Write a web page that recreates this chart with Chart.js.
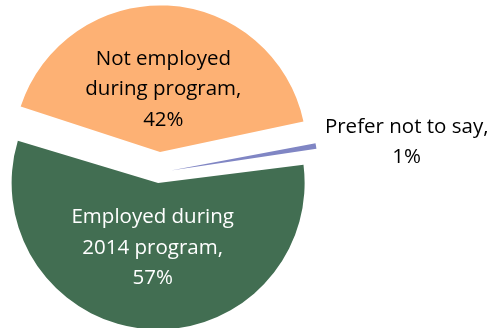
<!DOCTYPE html>
<html>
<head>
<meta charset="utf-8">
<script src="https://cdn.jsdelivr.net/npm/chart.js@4"></script>
<style>
  html, body { margin: 0; padding: 0; background: #fff; }
  #wrap { width: 495px; height: 328px; }
</style>
</head>
<body>
<div id="wrap"><canvas id="pie" width="495" height="328"></canvas></div>
<script>
// data
const categories = [
  ['Employed during', '2014 program,'],
  ['Not employed', 'during program,'],
  ['Prefer not to say,']
];
const shares = [57, 42, 1];
const sliceColors = ['#426E52', '#FDB174', '#8086C4'];
const textColors = ['#ffffff', '#000000', '#000000'];
// label distance from the pie centre (fraction of radius); null = outside
const labelRadius = [0.555, 0.61, null];

const FONT = '"Open Sans", "Noto Sans", sans-serif';

// data labels, Excel style (name, value%)
const pieLabels = {
  id: 'pieLabels',
  afterDatasetsDraw(chart) {
    const { ctx } = chart;
    const meta = chart.getDatasetMeta(0);
    ctx.save();
    ctx.font = '20.5px ' + FONT;
    ctx.textBaseline = 'middle';
    ctx.textAlign = 'center';
    const lh = 30.5;
    meta.data.forEach((arc, i) => {
      const p = arc.getProps(['x', 'y', 'startAngle', 'endAngle', 'outerRadius'], true);
      const mid = (p.startAngle + p.endAngle) / 2;
      const lines = categories[i].concat([shares[i] + '%']);
      let x, y;
      if (labelRadius[i] != null) {
        x = p.x + Math.cos(mid) * p.outerRadius * labelRadius[i];
        y = p.y + Math.sin(mid) * p.outerRadius * labelRadius[i];
      } else {
        // outside: left edge of the text block next to the slice tip
        const ax = p.x + Math.cos(mid) * p.outerRadius * 1.2;
        const ay = p.y + Math.sin(mid) * p.outerRadius * 1.2;
        const w = Math.max(...lines.map(l => ctx.measureText(l).width));
        x = ax + w / 2 + 5;
        y = ay - 3;
      }
      ctx.fillStyle = textColors[i];
      const top = y - (lines.length - 1) * lh / 2;
      lines.forEach((l, k) => ctx.fillText(l, x, top + k * lh));
    });
    ctx.restore();
  }
};

new Chart(document.getElementById('pie'), {
  type: 'pie',
  data: {
    labels: categories.map(c => c.join(' ')),
    datasets: [{
      data: shares,
      backgroundColor: sliceColors,
      borderWidth: 0,
      offset: [42, 82, 48]
    }]
  },
  options: {
    responsive: false,
    animation: false,
    rotation: 82.2,
    radius: 136,
    layout: { padding: { left: 0, right: 177, top: 17, bottom: 0 } },
    plugins: {
      legend: { display: false },
      tooltip: { enabled: false }
    }
  },
  plugins: [pieLabels]
});
</script>
</body>
</html>
